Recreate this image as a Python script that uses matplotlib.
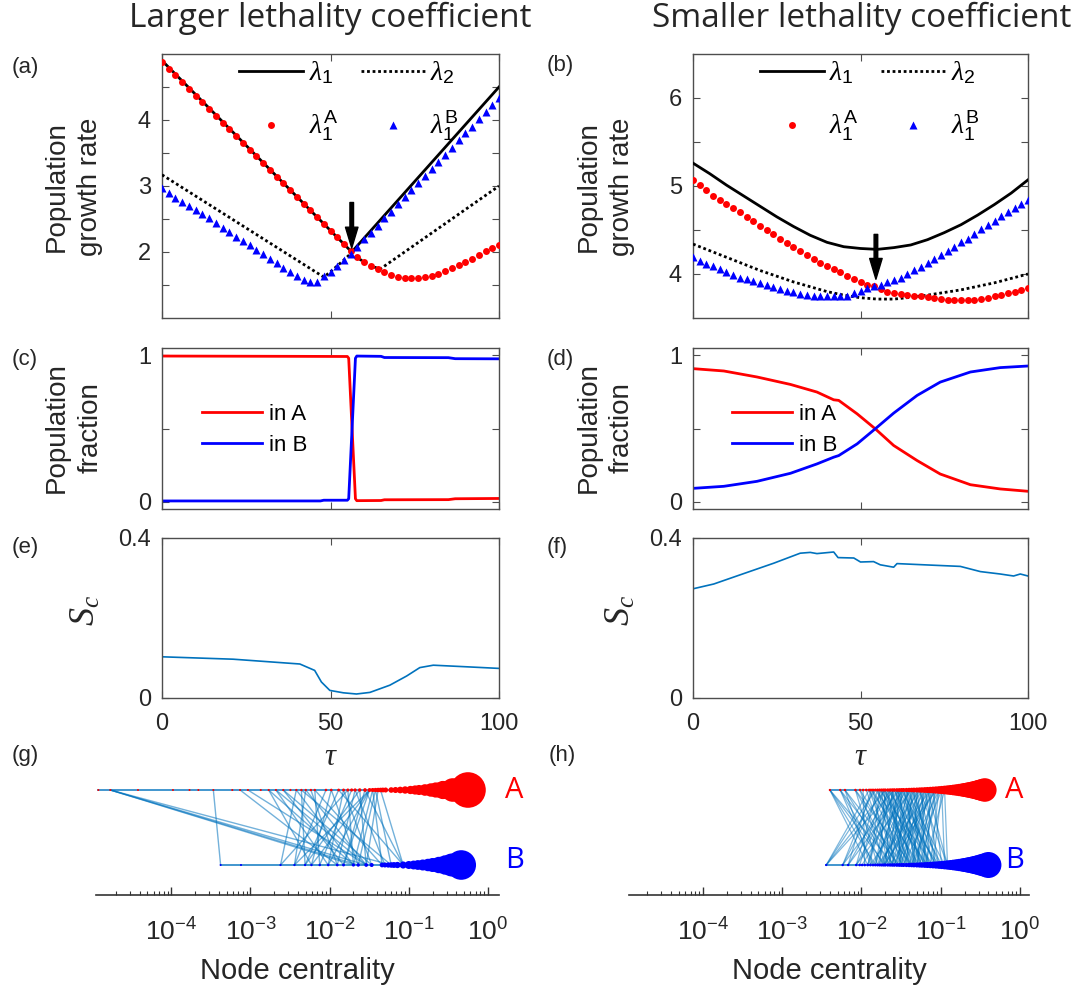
import numpy as np
import matplotlib
matplotlib.use('Agg')
import matplotlib.pyplot as plt
from matplotlib.ticker import LogLocator, NullFormatter
import matplotlib.transforms as mtransforms

plt.rcParams['font.family'] = ['Liberation Sans', 'DejaVu Sans']
plt.rcParams['mathtext.fontset'] = 'custom'
plt.rcParams['mathtext.rm'] = 'Liberation Sans'
plt.rcParams['mathtext.it'] = 'Liberation Serif:italic'
plt.rcParams['mathtext.bf'] = 'Liberation Sans:bold'
plt.rcParams['mathtext.sf'] = 'Liberation Sans'

# ---------------- data ----------------
tau_dots = np.arange(0, 101, 2)

# (a) larger lethality coefficient
a_lam1_tau = [0, 56.3, 100]
a_lam1 = [4.90, 2.00, 4.50]
a_lam2_tau = [0, 48, 50, 52, 54, 56.3, 58, 60, 62, 64.7, 100]
a_lam2 = [3.17, 1.62, 1.70, 1.79, 1.88, 1.99, 1.91, 1.85, 1.79, 1.74, 3.00]
a_lam1A = [4.88, 4.78, 4.68, 4.57, 4.47, 4.37, 4.27, 4.16, 4.06, 3.96, 3.86,
           3.76, 3.65, 3.55, 3.45, 3.35, 3.24, 3.14, 3.04, 2.94, 2.84, 2.73,
           2.63, 2.53, 2.43, 2.32, 2.22, 2.12, 2.02, 1.92, 1.85, 1.79, 1.74,
           1.69, 1.65, 1.62, 1.60, 1.60, 1.60, 1.62, 1.64, 1.67, 1.71, 1.75,
           1.80, 1.85, 1.90, 1.96, 2.01, 2.06, 2.11]
a_lam1B = [2.97, 2.90, 2.82, 2.76, 2.70, 2.64, 2.57, 2.51, 2.44, 2.37, 2.30,
           2.23, 2.17, 2.10, 2.03, 1.97, 1.90, 1.83, 1.76, 1.70, 1.64, 1.58,
           1.55, 1.55, 1.63, 1.70, 1.79, 1.88, 1.97, 2.08, 2.19, 2.29, 2.40,
           2.51, 2.61, 2.72, 2.83, 2.94, 3.04, 3.15, 3.26, 3.37, 3.47, 3.58,
           3.69, 3.80, 3.90, 4.01, 4.12, 4.23, 4.34]

# (b) smaller lethality coefficient
b_lam1_tau = [0, 5, 10, 15, 20, 25, 30, 35, 40, 45, 50, 55, 60, 65, 70, 75, 80, 85, 90, 95, 100]
b_lam1 = [5.26, 5.14, 5.01, 4.89, 4.77, 4.65, 4.54, 4.44, 4.36, 4.31, 4.29,
          4.28, 4.30, 4.33, 4.39, 4.47, 4.56, 4.67, 4.79, 4.92, 5.07]
b_lam2_tau = [0, 10, 20, 30, 40, 45, 50, 55, 60, 65, 70, 75, 80, 85, 90, 95, 100]
b_lam2 = [4.34, 4.19, 4.04, 3.91, 3.80, 3.76, 3.73, 3.715, 3.715, 3.735, 3.76,
          3.79, 3.82, 3.86, 3.90, 3.95, 4.00]
b_lam1A = [5.07, 5.01, 4.95, 4.89, 4.84, 4.79, 4.75, 4.70, 4.65, 4.60, 4.55,
           4.50, 4.45, 4.40, 4.35, 4.31, 4.26, 4.22, 4.17, 4.13, 4.09, 4.06,
           4.02, 3.98, 3.94, 3.91, 3.87, 3.86, 3.83, 3.80, 3.78, 3.77, 3.76,
           3.755, 3.75, 3.74, 3.73, 3.72, 3.71, 3.705, 3.70, 3.70, 3.705, 3.715,
           3.725, 3.745, 3.765, 3.785, 3.80, 3.82, 3.84]
b_lam1B = [4.19, 4.15, 4.11, 4.09, 4.06, 4.02, 3.99, 3.96, 3.94, 3.92, 3.90,
           3.875, 3.85, 3.83, 3.81, 3.79, 3.775, 3.76, 3.755, 3.75, 3.755, 3.755,
           3.755, 3.755, 3.78, 3.81, 3.84, 3.86, 3.875, 3.905, 3.935, 3.96, 4.00,
           4.04, 4.08, 4.125, 4.17, 4.215, 4.26, 4.31, 4.36, 4.40, 4.45, 4.51,
           4.555, 4.60, 4.66, 4.705, 4.75, 4.80, 4.84]

# (c) population fraction, larger coefficient
c_tau_A = [0, 40, 55.0, 55.4, 56.4, 57.4, 57.8, 65, 66, 85, 87, 100]
c_inA = [0.995, 0.993, 0.992, 0.98, 0.5, 0.02, 0.007, 0.008, 0.013, 0.014, 0.02, 0.022]
c_tau_B = [0, 47, 48, 55.0, 55.4, 56.4, 57.4, 57.8, 65, 66, 85, 87, 100]
c_inB = [0.005, 0.005, 0.01, 0.01, 0.02, 0.5, 0.98, 0.995, 0.993, 0.985, 0.984, 0.977, 0.976]

# (d) population fraction, smaller coefficient
d_tau = [0, 9.2, 19.1, 29.1, 37, 42, 43.5, 49, 54.4, 59.9, 66.9, 73.8, 82.8, 91.7, 100]
d_inA = [0.909, 0.893, 0.852, 0.801, 0.749, 0.696, 0.692, 0.600, 0.498, 0.384,
         0.281, 0.189, 0.116, 0.087, 0.071]
d_inB = [0.091, 0.105, 0.139, 0.194, 0.258, 0.304, 0.315, 0.395, 0.498, 0.605,
         0.726, 0.817, 0.886, 0.916, 0.927]

# (e), (f) S_c
e_tau = [0, 21.1, 40.9, 45.3, 47.3, 49.8, 53.8, 57.7, 61.7, 67.6, 72.6, 76.5, 80.5, 90.4, 100]
e_sc = [0.103, 0.097, 0.085, 0.069, 0.040, 0.019, 0.013, 0.010, 0.014, 0.032,
        0.055, 0.076, 0.082, 0.078, 0.074]
f_tau = [0, 6.2, 14.1, 24.1, 32, 35, 37, 42, 43.3, 48, 50, 53.9, 55.9, 59.9,
         60.9, 68.9, 79.8, 85.8, 91.7, 95.7, 97.7, 100]
f_sc = [0.273, 0.285, 0.308, 0.337, 0.362, 0.364, 0.361, 0.365, 0.351, 0.350,
        0.340, 0.341, 0.333, 0.327, 0.336, 0.333, 0.329, 0.316, 0.310, 0.305,
        0.310, 0.305]

# (g) network, larger coefficient: node centralities
g_nodes_A = [1.2e-5, 1.7e-5, 3.8e-5, 1.05e-4, 1.7e-4, 2.2e-4, 3.4e-4, 5.9e-4,
             7.4e-4, 9.3e-4, 1.35e-3, 1.7e-3, 2.1e-3, 2.6e-3, 3.2e-3, 3.8e-3,
             4.4e-3, 5.0e-3, 5.8e-3, 6.5e-3, 9.0e-3, 1.05e-2, 1.3e-2, 1.5e-2,
             1.7e-2, 1.9e-2, 2.1e-2, 2.4e-2, 2.8e-2, 3.2e-2, 3.5e-2, 3.8e-2,
             4.1e-2, 4.4e-2, 4.7e-2, 5.1e-2, 6.0e-2, 6.8e-2, 7.8e-2, 9.0e-2,
             0.105, 0.12, 0.135, 0.16, 0.19, 0.22, 0.27, 0.36, 0.56]
g_nodes_B = [4.2e-4, 7.6e-4, 2.4e-3, 3.6e-3, 4.9e-3, 5.9e-3, 7.5e-3, 9.6e-3,
             1.25e-2, 1.5e-2, 2.0e-2, 2.3e-2, 2.9e-2, 3.4e-2, 4.6e-2, 5.0e-2,
             5.5e-2, 6.0e-2, 6.5e-2, 7.2e-2, 8.5e-2, 0.10, 0.115, 0.13, 0.15,
             0.175, 0.20, 0.24, 0.29, 0.35, 0.46]
g_edges = [(1.7e-5, 2.0e-2), (1.7e-5, 2.3e-2), (1.7e-5, 2.9e-2), (1.7e-5, 6.0e-2),
           (3.4e-4, 4.2e-4), (7.4e-4, 1.25e-2), (9.3e-4, 2.9e-2),
           (1.7e-3, 5.9e-3), (1.7e-3, 2.0e-2), (2.1e-3, 9.6e-3), (2.1e-3, 2.9e-2),
           (2.6e-3, 3.4e-2), (2.6e-3, 1.5e-2), (3.8e-3, 2.4e-3), (3.8e-3, 2.0e-2),
           (4.4e-3, 4.9e-3), (4.4e-3, 6.0e-2), (5.0e-3, 3.6e-3), (5.0e-3, 2.9e-2),
           (5.8e-3, 1.25e-2), (6.5e-3, 7.5e-3), (6.5e-3, 4.6e-2), (9.0e-3, 3.6e-3),
           (1.05e-2, 5.9e-3), (1.05e-2, 2.3e-2), (1.3e-2, 4.9e-3), (1.3e-2, 8.5e-2),
           (1.5e-2, 9.6e-3), (1.5e-2, 3.4e-2), (1.7e-2, 2.4e-3), (1.7e-2, 2.0e-2),
           (1.9e-2, 7.5e-3), (2.1e-2, 1.25e-2), (2.1e-2, 5.0e-2), (2.4e-2, 4.9e-3),
           (2.4e-2, 2.9e-2), (2.8e-2, 1.5e-2), (2.8e-2, 8.5e-2), (3.2e-2, 3.6e-3),
           (3.2e-2, 5.9e-3), (3.2e-2, 9.6e-3), (3.2e-2, 1.5e-2), (3.5e-2, 2.0e-2),
           (3.5e-2, 4.6e-2), (3.8e-2, 2.3e-2), (3.8e-2, 6.0e-2), (4.1e-2, 2.9e-2),
           (4.4e-2, 8.5e-2)]

# (h) network, smaller coefficient
h_nodes_A = [4.0e-3, 5.4e-3, 6.2e-3, 8.4e-3, 9.6e-3, 1.05e-2, 1.15e-2, 1.25e-2,
             1.32e-2, 1.4e-2, 1.5e-2, 1.6e-2, 1.7e-2, 1.8e-2, 1.9e-2, 2.0e-2,
             2.15e-2, 2.3e-2, 2.45e-2, 2.6e-2, 2.8e-2, 3.0e-2, 3.2e-2, 3.4e-2,
             3.7e-2, 4.0e-2, 4.3e-2, 4.6e-2, 5.0e-2, 5.4e-2, 5.8e-2, 6.3e-2,
             6.8e-2, 7.4e-2, 8.0e-2, 8.7e-2, 9.5e-2, 0.103, 0.112, 0.122, 0.133,
             0.145, 0.158, 0.172, 0.187, 0.20, 0.215, 0.23, 0.25, 0.27, 0.29,
             0.31, 0.33, 0.36]
h_nodes_B = [3.6e-3, 5.8e-3, 6.8e-3, 8.6e-3, 9.5e-3, 1.02e-2, 1.1e-2, 1.2e-2,
             1.3e-2, 1.4e-2, 1.5e-2, 1.6e-2, 1.7e-2, 1.8e-2, 1.9e-2, 2.0e-2,
             2.15e-2, 2.3e-2, 2.45e-2, 2.6e-2, 2.8e-2, 3.0e-2, 3.2e-2, 3.4e-2,
             3.7e-2, 4.0e-2, 4.3e-2, 4.6e-2, 5.0e-2, 5.4e-2, 5.8e-2, 6.3e-2,
             6.8e-2, 7.4e-2, 8.0e-2, 8.7e-2, 9.5e-2, 0.103, 0.112, 0.122, 0.133,
             0.145, 0.158, 0.172, 0.187, 0.20, 0.215, 0.23, 0.25, 0.27, 0.29,
             0.32, 0.35, 0.40]
h_edges = [(4.0e-3, 1.2e-2), (4.0e-3, 1.5e-2), (4.0e-3, 2.0e-2), (4.0e-3, 2.6e-2),
           (5.4e-3, 1.4e-2), (5.4e-3, 1.9e-2), (5.4e-3, 3.0e-2),
           (6.2e-3, 1.3e-2), (6.2e-3, 2.3e-2), (6.2e-3, 3.4e-2),
           (8.4e-3, 1.6e-2), (8.4e-3, 2.8e-2), (8.4e-3, 4.3e-2),
           (9.6e-3, 2.0e-2), (9.6e-3, 3.7e-2), (1.05e-2, 1.1e-2), (1.15e-2, 2.45e-2),
           (1.25e-2, 3.6e-3), (1.5e-2, 3.6e-3), (2.0e-2, 3.6e-3), (2.6e-2, 3.6e-3),
           (1.4e-2, 5.8e-3), (1.8e-2, 5.8e-3), (3.0e-2, 5.8e-3),
           (1.32e-2, 6.8e-3), (2.3e-2, 6.8e-3), (3.4e-2, 6.8e-3),
           (1.6e-2, 8.6e-3), (2.8e-2, 8.6e-3), (4.3e-2, 8.6e-3),
           (1.9e-2, 9.5e-3), (3.7e-2, 1.02e-2),
           (1.25e-2, 4.0e-2), (1.32e-2, 5.4e-2), (1.4e-2, 2.15e-2), (1.5e-2, 6.8e-2),
           (1.6e-2, 3.2e-2), (1.7e-2, 1.3e-2), (1.7e-2, 8.0e-2), (1.8e-2, 4.6e-2),
           (1.9e-2, 2.6e-2), (2.0e-2, 5.8e-2), (2.0e-2, 1.7e-2), (2.15e-2, 9.5e-2),
           (2.15e-2, 3.4e-2), (2.3e-2, 1.5e-2), (2.3e-2, 6.3e-2), (2.45e-2, 4.3e-2),
           (2.45e-2, 2.0e-2), (2.6e-2, 7.4e-2), (2.6e-2, 1.2e-2), (2.8e-2, 5.0e-2),
           (2.8e-2, 2.3e-2), (3.0e-2, 8.7e-2), (3.0e-2, 1.6e-2), (3.2e-2, 3.0e-2),
           (3.2e-2, 0.103), (3.4e-2, 1.9e-2), (3.4e-2, 5.4e-2), (3.7e-2, 2.8e-2),
           (3.7e-2, 0.112), (4.0e-2, 1.4e-2), (4.0e-2, 6.8e-2), (4.3e-2, 2.45e-2),
           (4.3e-2, 3.7e-2), (4.6e-2, 1.8e-2), (4.6e-2, 8.0e-2), (5.0e-2, 2.15e-2),
           (5.0e-2, 4.6e-2), (5.4e-2, 1.3e-2), (5.4e-2, 0.122), (5.8e-2, 3.2e-2),
           (5.8e-2, 6.3e-2), (6.3e-2, 2.0e-2), (6.3e-2, 9.5e-2), (6.8e-2, 2.6e-2),
           (6.8e-2, 5.0e-2), (7.4e-2, 1.6e-2), (7.4e-2, 4.0e-2), (8.0e-2, 3.0e-2),
           (8.0e-2, 0.103), (8.7e-2, 2.3e-2), (8.7e-2, 5.8e-2), (9.5e-2, 3.4e-2),
           (9.5e-2, 7.4e-2), (0.103, 4.3e-2), (0.103, 0.112), (1.25e-2, 2.8e-2),
           (1.4e-2, 4.3e-2), (1.6e-2, 5.0e-2), (1.8e-2, 2.3e-2), (1.9e-2, 6.3e-2),
           (2.15e-2, 1.2e-2), (2.3e-2, 3.7e-2), (2.6e-2, 5.8e-2), (2.8e-2, 8.7e-2),
           (3.0e-2, 4.0e-2), (3.2e-2, 1.5e-2), (3.4e-2, 7.4e-2), (3.7e-2, 4.6e-2),
           (4.0e-2, 2.0e-2), (4.3e-2, 9.5e-2), (4.6e-2, 3.0e-2), (5.0e-2, 6.8e-2),
           (5.4e-2, 2.6e-2), (5.8e-2, 1.7e-2), (6.3e-2, 4.3e-2), (6.8e-2, 0.122),
           (7.4e-2, 2.8e-2), (8.0e-2, 5.0e-2), (8.7e-2, 1.9e-2), (9.5e-2, 5.4e-2),
           (2.0e-2, 4.0e-2), (2.45e-2, 3.2e-2), (3.0e-2, 2.45e-2), (3.7e-2, 6.3e-2),
           (4.6e-2, 5.4e-2), (5.4e-2, 8.7e-2), (6.3e-2, 3.4e-2), (7.4e-2, 6.8e-2),
           (8.7e-2, 4.6e-2), (0.103, 8.0e-2), (0.112, 0.122), (0.112, 6.3e-2)]

# ---------------- figure ----------------
W, H = 1084, 986
fig = plt.figure(figsize=(W / 100, H / 100), dpi=100)


def box(l, t, r, b):
    return [l / W, 1 - b / H, (r - l) / W, (b - t) / H]


FRAME = '#4d4d4d'
TXT = '#262626'
EDGE = '#0072BD'


def frame(ax):
    for s in ax.spines.values():
        s.set_color(FRAME)
        s.set_linewidth(1)
    ax.tick_params(direction='in', top=True, right=True, length=5, width=0.8,
                   color=FRAME, labelsize=17, labelcolor=TXT)
    ax.tick_params(axis='y', pad=8)
    ax.tick_params(axis='x', pad=11)
    ax.set_xlim(0, 100)
    ax.set_xticks([0, 50, 100])


def ylab(ax, x, y, s, size=20, **kw):
    ax.text(x, y, s, transform=ax.transAxes, rotation=90, ha='center',
            va='center', fontsize=size, color=TXT, multialignment='center', **kw)


ax_a = fig.add_axes(box(162, 54, 499, 318))
ax_b = fig.add_axes(box(693, 54, 1028, 318))
ax_c = fig.add_axes(box(162, 348, 499, 509))
ax_d = fig.add_axes(box(693, 348, 1028, 509))
ax_e = fig.add_axes(box(162, 538, 499, 698))
ax_f = fig.add_axes(box(693, 538, 1028, 698))
ax_g = fig.add_axes(box(96, 770, 499, 895))
ax_h = fig.add_axes(box(629, 770, 1029, 895))

# growth-rate panels
for ax, l1t, l1, l2t, l2, dA, dB, ylim, yt, arrow in [
        (ax_a, a_lam1_tau, a_lam1, a_lam2_tau, a_lam2, a_lam1A, a_lam1B,
         (1, 5), [1.5, 2, 2.5, 3, 3.5, 4, 4.5], (56.3, 2.06, 2.75)),
        (ax_b, b_lam1_tau, b_lam1, b_lam2_tau, b_lam2, b_lam1A, b_lam1B,
         (3.5, 6.5), [4, 4.5, 5, 5.5, 6], (54.6, 3.94, 4.45))]:
    frame(ax)
    h1, = ax.plot(l1t, l1, color='k', lw=2, label=r'$\lambda_1$', zorder=3)
    h2, = ax.plot(l2t, l2, color='k', lw=2, ls=(0, (1, 1)), label=r'$\lambda_2$', zorder=3)
    h3, = ax.plot(tau_dots, dA, 'o', color='red', ms=5, mec='none',
                  label=r'$\lambda_1^{\mathrm{A}}$', zorder=4)
    h4, = ax.plot(tau_dots, dB, '^', color='blue', ms=6, mec='none',
                  label=r'$\lambda_1^{\mathrm{B}}$', zorder=4)
    ax.set_ylim(*ylim)
    ax.set_yticks(yt)
    ax.set_yticklabels([('%d' % v if float(v).is_integer() else '') for v in yt])
    ax.set_xticklabels([])
    ax.annotate('', xy=(arrow[0], arrow[1]), xytext=(arrow[0], arrow[2]),
                arrowprops=dict(facecolor='k', edgecolor='k', width=2.6,
                                headwidth=9, headlength=15, shrink=0), zorder=6)
    leg_x = 0.205 if ax is ax_a else 0.175
    ax.legend([h1, h3, h2, h4], [h.get_label() for h in (h1, h3, h2, h4)],
              ncol=2, frameon=False, loc='upper left', bbox_to_anchor=(leg_x, 1.01),
              borderaxespad=0, borderpad=0.3, fontsize=20, handlelength=2.3,
              handletextpad=0.2, columnspacing=0.8, labelspacing=0.8, numpoints=1)
    ylab(ax, -0.262, 0.496, 'Population\ngrowth rate', linespacing=1.35)

# fraction panels
for ax, tA, vA, tB, vB, lx in [(ax_c, c_tau_A, c_inA, c_tau_B, c_inB, 0.119),
                               (ax_d, d_tau, d_inA, d_tau, d_inB, 0.117)]:
    frame(ax)
    ax.plot(tA, vA, color='red', lw=2, label='in A')
    ax.plot(tB, vB, color='blue', lw=2, label='in B')
    ax.set_ylim(-0.05, 1.05)
    ax.set_yticks([0, 0.5, 1])
    ax.set_yticklabels(['0', '', '1'])
    ax.set_xticklabels([])
    ax.legend(frameon=False, loc='center left', bbox_to_anchor=(lx, 0.49),
              borderaxespad=0, borderpad=0, fontsize=16, handlelength=2.7,
              handletextpad=0.3, labelspacing=0.45)
    ylab(ax, -0.262, 0.503, 'Population\nfraction', linespacing=1.35)

# S_c panels
for ax, t, v, yx in [(ax_e, e_tau, e_sc, -0.228), (ax_f, f_tau, f_sc, -0.218)]:
    frame(ax)
    ax.plot(t, v, color=EDGE, lw=1.2)
    ax.set_ylim(0, 0.4)
    ax.set_yticks([0, 0.4])
    ax.set_yticklabels(['0', '0.4'])
    ax.set_xlabel(r'$\tau$', fontsize=22, color=TXT, labelpad=5)
    ylab(ax, yx, 0.55, r'$S_c$', size=26)

# network panels
yA, yB = 0.84, 0.24
for ax, nA, nB, edges, xlim, lab_x, alpha, elw in [
        (ax_g, g_nodes_A, g_nodes_B, g_edges, (1.12e-5, 1.38), 1.015, 0.55, 1.0),
        (ax_h, h_nodes_A, h_nodes_B, h_edges, (1.17e-5, 1.30), 0.94, 0.5, 0.9)]:
    ax.set_xscale('log')
    ax.set_xlim(*xlim)
    ax.set_ylim(0, 1)
    for ca, cb in edges:
        ax.plot([ca, cb], [yA, yB], color=EDGE, alpha=alpha, lw=elw, zorder=1)
    ax.plot(nA, [yA] * len(nA), color=EDGE, alpha=0.8, lw=1.3, zorder=1)
    ax.plot(nB, [yB] * len(nB), color=EDGE, alpha=0.8, lw=1.3, zorder=1)
    sA = (1.44 * (1 + 30 * np.array(nA))) ** 2
    sB = (1.44 * (1 + 30 * np.array(nB))) ** 2
    ax.scatter(nA, [yA] * len(nA), s=sA, color='red', edgecolors='none', zorder=3)
    ax.scatter(nB, [yB] * len(nB), s=sB, color='blue', edgecolors='none', zorder=3)
    for s in ('left', 'right', 'top'):
        ax.spines[s].set_visible(False)
    ax.spines['bottom'].set_color('#333333')
    ax.spines['bottom'].set_linewidth(1.2)
    ax.set_yticks([])
    ax.xaxis.set_major_locator(LogLocator(base=10, numticks=20))
    ax.xaxis.set_minor_locator(LogLocator(base=10, subs=np.arange(2, 10), numticks=20))
    ax.xaxis.set_minor_formatter(NullFormatter())
    ax.tick_params(axis='x', which='major', direction='in', length=6, width=1,
                   color='#333333', labelsize=19, labelcolor=TXT, pad=17)
    ax.tick_params(axis='x', which='minor', direction='in', length=3, width=0.8,
                   color='#333333')
    ax.set_xlabel('Node centrality', fontsize=21, color=TXT, labelpad=8)
    tr = mtransforms.blended_transform_factory(ax.transAxes, ax.transData)
    ax.text(lab_x, yA, 'A', transform=tr, color='red', fontsize=21,
            family='Open Sans', ha='left', va='center')
    ax.text(lab_x, yB + 0.04, 'B', transform=tr, color='blue', fontsize=21,
            family='Open Sans', ha='left', va='center')

# titles and panel letters
fig.text(330 / W, 1 - 18 / H, 'Larger lethality coefficient', ha='center',
         va='center', fontsize=24, family='Open Sans', color=TXT)
fig.text(862 / W, 1 - 18 / H, 'Smaller lethality coefficient', ha='center',
         va='center', fontsize=24, family='Open Sans', color=TXT)
for lab, x, y in [('(a)', 12, 67), ('(b)', 547, 66), ('(c)', 12, 360),
                  ('(d)', 547, 359), ('(e)', 12, 548), ('(f)', 547, 548),
                  ('(g)', 12, 756), ('(h)', 549, 756)]:
    fig.text(x / W, 1 - y / H, lab, ha='left', va='center', fontsize=16, color=TXT)

fig.savefig('out.png', dpi=100)
